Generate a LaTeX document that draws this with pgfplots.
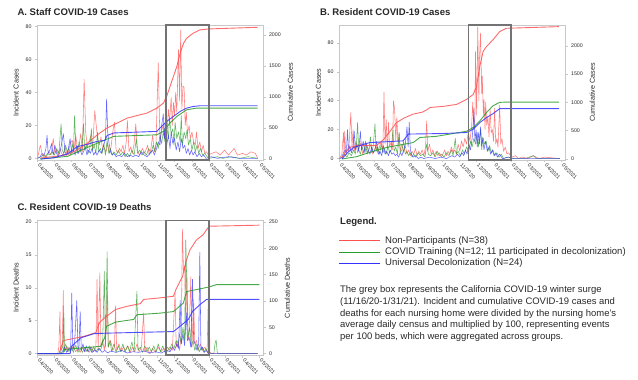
\documentclass[border=0pt]{standalone}
\usepackage{fontspec}
\setmainfont{Liberation Sans}
\usepackage{pgfplots}
\pgfplotsset{compat=1.18}
\definecolor{cred}{RGB}{255,80,80}
\definecolor{cgreen}{RGB}{40,155,40}
\definecolor{cblue}{RGB}{50,50,255}
\definecolor{axgrey}{RGB}{200,200,200}
\definecolor{boxgrey}{RGB}{115,115,115}
\definecolor{txt}{RGB}{40,40,40}
\tikzset{surge/.style={draw=boxgrey, line width=1.4bp}}
\pgfplotsset{
  base/.style={
    scale only axis, width=225.5bp, height=135bp, xmin=0, xmax=401.5,
    axis line style={draw=axgrey, line width=0.8bp},
    tick style={draw=axgrey, line width=0.6bp}, major tick length=2.5bp, tick align=outside,
    ticklabel style={font=\fontsize{5.3}{6}\selectfont, text=txt},
    /pgf/number format/assume math mode=true,
    /pgf/number format/1000 sep={},
    scaled ticks=false,
    label style={font=\fontsize{7.2}{8}\selectfont, text=txt},
  },
  lax/.style={base, xtick pos=left, ytick pos=left,
    xtick={0,30,61,91,122,153,183,214,244,275,306,334,365,395},
    xticklabels={04/2020,05/2020,06/2020,07/2020,08/2020,09/2020,10/2020,11/2020,12/2020,01/2021,02/2021,03/2021,04/2021,05/2021},
    xticklabel style={rotate=-45, anchor=west, xshift=-1bp, yshift=-0.5bp},
  },
  rax/.style={base, axis y line*=right, axis x line=none, clip=false},
  inc/.style={line width=0.55bp, opacity=0.75, line join=round},
  cum/.style={line width=0.9bp, opacity=0.85},
}
\begin{document}
\begin{tikzpicture}
\useasboundingbox (0bp,0bp) rectangle (638bp,380bp);
% ---------------- A ----------------
\begin{axis}[lax, at={(37.5bp,220bp)}, anchor=south west, ymin=-1, ymax=81, ytick={0,20,40,60,80}, ylabel={Incident Cases}]
\addplot[inc, cred] coordinates {(0,0) (5,8) (8,3) (10,1) (13,2) (16,1) (20,4) (24,2) (28,12) (31,3) (34,5) (37,2) (40,6) (43,3) (46,2) (49,7) (52,3) (55,4) (58,9) (62,11) (65,5) (68,14) (71,6) (74,8) (77,15) (80,4) (83,48) (86,15) (89,7) (92,10) (95,14) (98,6) (102,29) (104,22) (107,12) (110,8) (113,13) (116,5) (119,6) (122,4) (125,9) (128,3) (131,7) (134,16) (137,22) (140,5) (143,3) (146,6) (149,4) (152,8) (155,3) (158,10) (160,23) (163,4) (166,7) (169,3) (172,9) (175,21) (178,5) (181,2) (184,4) (187,6) (190,3) (193,5) (196,8) (199,2) (202,6) (205,14) (208,4) (211,9) (215,58) (218,10) (221,17) (224,20) (226,12) (229,25) (231,18) (233,30) (235,22) (238,37) (240,20) (242,34) (244,26) (246,40) (248,28) (251,66) (253,35) (255,78) (257,30) (259,44) (261,43) (263,20) (265,28) (267,15) (270,20) (272,12) (275,16) (278,10) (281,8) (283,16) (286,6) (289,10) (292,4) (295,8) (298,3) (301,4) (304,2) (310,3) (318,4) (325,2) (333,5) (340,2) (350,6) (356,2) (365,3) (372,2) (380,4) (388,3) (392,0)};
\addplot[inc, cgreen] coordinates {(0,0) (6,1) (10,2) (14,1) (18,3) (22,2) (26,4) (30,2) (34,6) (38,3) (42,21) (44,5) (47,3) (50,8) (53,4) (56,6) (59,2) (62,9) (64,4) (66,26) (68,8) (71,3) (74,10) (77,4) (79,6) (82,21) (84,5) (87,8) (90,3) (93,6) (96,18) (98,5) (101,8) (104,3) (107,16) (109,4) (112,6) (115,3) (118,9) (121,2) (124,11) (127,3) (130,6) (133,2) (136,4) (140,2) (144,5) (148,2) (152,4) (156,1) (160,3) (164,1) (168,5) (172,2) (176,12) (178,3) (182,5) (186,2) (190,4) (194,2) (198,6) (202,3) (206,8) (209,4) (212,10) (215,6) (218,14) (221,9) (224,16) (227,10) (230,20) (233,12) (235,24) (238,15) (241,18) (243,8) (245,22) (248,12) (251,16) (254,10) (256,26) (258,8) (261,16) (264,12) (266,17) (269,8) (272,12) (275,5) (278,10) (281,4) (284,8) (287,3) (290,6) (294,2) (298,3) (302,1) (306,0) (320,1) (330,0) (345,1) (360,0) (375,1) (392,0)};
\addplot[inc, cblue] coordinates {(0,0) (5,1) (8,3) (12,2) (15,6) (17,14) (19,3) (22,5) (25,9) (28,2) (31,8) (34,3) (37,1) (40,4) (43,9) (46,15) (49,4) (52,2) (55,6) (58,12) (61,3) (64,5) (67,2) (70,8) (73,3) (76,6) (79,2) (82,4) (85,7) (88,2) (91,5) (94,3) (97,6) (100,2) (103,4) (106,2) (110,5) (114,3) (118,8) (121,12) (123,36) (125,16) (127,10) (130,4) (133,2) (136,3) (140,1) (145,2) (150,1) (155,3) (160,1) (165,2) (170,1) (175,2) (180,1) (185,4) (190,2) (195,1) (200,3) (205,5) (208,2) (212,6) (215,10) (218,8) (221,20) (224,27) (226,12) (228,24) (230,8) (233,14) (236,6) (238,16) (241,9) (244,12) (247,5) (250,10) (253,4) (256,12) (259,6) (262,8) (265,3) (268,6) (271,2) (274,5) (277,2) (280,4) (284,1) (288,3) (292,1) (296,2) (300,0) (310,1) (320,0) (340,1) (360,0) (392,0)};
\end{axis}
\begin{axis}[rax, at={(37.5bp,220bp)}, anchor=south west, ymin=-16, ymax=2160, ytick={0,500,1000,1500,2000}, ylabel={Cumulative Cases}]
\addplot[cum, cred] coordinates {(5,15) (20,30) (40,50) (53.5,70) (71,150) (89,257) (106.5,390) (124,500) (142,580) (160,660) (177,700) (195,740) (212.5,820) (224,900) (230,1010) (236,1170) (242,1330) (248,1490) (254,1705) (260,1865) (265.5,1946) (277,2027) (289,2080) (304,2096) (392,2123)};
\addplot[cum, cgreen] coordinates {(5,0) (53.5,43) (80,150) (100,230) (106.5,257) (124,322) (136,365) (212.5,390) (224,445) (236,580) (248,686) (265.5,793) (283,820) (392,820)};
\addplot[cum, cblue] coordinates {(5,0) (30,20) (53.5,85) (71,200) (90,240) (106.5,285) (120,300) (124,380) (136,420) (212.5,445) (218,500) (230,605) (242,686) (254,767) (265.5,820) (277,847) (289,858) (392,858)};
\draw[surge] (axis cs:229,-16) rectangle (axis cs:305,2160);
\end{axis}
\node[anchor=west, font=\fontsize{9.6}{11}\selectfont\bfseries, text=txt] at (14bp,368bp) {A. Staff COVID-19 Cases};
% ---------------- B ----------------
\begin{axis}[lax, at={(339.6bp,220bp)}, anchor=south west, ymin=-1, ymax=92.5, ytick={0,20,40,60,80}, ylabel={Incident Cases}]
\addplot[inc, cred] coordinates {(0,0) (4,3) (7,18) (8,2) (9,19) (11,4) (14,6) (17,10) (20,32) (22,8) (24,20) (26,5) (29,12) (32,4) (35,8) (38,11) (41,3) (44,6) (47,11) (50,4) (53,7) (56,10) (59,3) (62,6) (65,9) (68,4) (71,8) (74,12) (77,5) (79,46) (81,10) (83,27) (85,6) (87,25) (89,8) (92,12) (94,6) (96,40) (98,34) (100,12) (102,29) (104,8) (106,18) (108,5) (111,10) (114,4) (117,9) (120,3) (123,6) (126,2) (129,5) (132,3) (135,7) (138,2) (141,5) (144,3) (147,6) (150,2) (153,8) (155,26) (157,5) (160,10) (163,3) (166,6) (169,2) (172,5) (175,2) (178,4) (181,1) (184,3) (187,6) (190,2) (193,5) (196,3) (199,8) (202,4) (205,6) (208,3) (211,10) (214,5) (217,12) (220,8) (223,14) (226,10) (229,18) (232,12) (235,22) (237,39) (239,20) (241,30) (242,74) (244,30) (246,91) (248,40) (249,69) (251,87) (253,45) (254,57) (256,30) (257,41) (259,20) (260,39) (262,23) (264,29) (266,15) (268,34) (270,18) (272,20) (274,12) (276,35) (278,10) (280,14) (282,8) (285,37) (287,10) (289,14) (292,5) (295,8) (298,3) (301,4) (304,2) (308,1) (313,2) (318,0) (325,1) (335,0) (345,2) (355,0) (365,1) (392,0)};
\addplot[inc, cgreen] coordinates {(0,0) (5,1) (9,3) (13,1) (17,4) (21,2) (25,6) (28,3) (30,10) (32,25) (34,6) (37,3) (40,8) (43,4) (46,12) (49,3) (52,6) (55,15) (57,4) (60,9) (63,24) (65,5) (68,8) (71,3) (74,10) (77,4) (80,7) (83,3) (86,9) (89,4) (92,6) (95,20) (97,5) (100,8) (103,3) (106,18) (108,4) (111,6) (114,12) (117,3) (120,5) (123,2) (126,4) (129,1) (132,3) (135,1) (140,4) (144,2) (148,3) (152,1) (155,10) (158,3) (162,2) (166,4) (170,1) (174,5) (178,2) (182,3) (186,1) (190,4) (195,2) (199,6) (202,2) (206,14) (208,3) (211,5) (215,2) (219,6) (222,3) (226,8) (230,5) (233,12) (236,8) (239,14) (242,10) (245,18) (247,8) (251,20) (253,6) (255,15) (258,10) (261,12) (264,5) (267,9) (270,4) (273,6) (276,2) (280,4) (284,1) (288,3) (292,0) (300,1) (310,0) (330,0) (345,2) (350,0) (392,0)};
\addplot[inc, cblue] coordinates {(0,0) (4,1) (7,4) (10,6) (12,3) (14,20) (16,5) (18,9) (21,4) (24,8) (26,19) (28,6) (31,10) (34,5) (37,19) (39,6) (42,12) (45,4) (48,10) (51,6) (54,3) (57,8) (60,4) (63,6) (66,12) (69,3) (72,5) (75,2) (78,9) (81,3) (84,5) (87,2) (90,6) (93,3) (96,4) (99,2) (102,3) (105,1) (108,4) (111,2) (114,6) (117,10) (120,22) (122,8) (124,25) (126,6) (128,3) (131,1) (135,2) (140,0) (145,1) (150,0) (160,1) (170,0) (180,1) (190,0) (200,2) (205,1) (210,3) (214,1) (218,4) (221,2) (224,6) (227,3) (230,10) (233,6) (236,14) (238,24) (239,35) (241,12) (243,20) (245,8) (247,18) (249,10) (251,22) (253,9) (255,14) (257,6) (260,12) (263,5) (266,8) (269,3) (272,6) (275,2) (278,4) (281,1) (285,3) (290,0) (300,1) (310,0) (330,0) (392,0)};
\end{axis}
\begin{axis}[rax, at={(339.6bp,220bp)}, anchor=south west, ymin=-18, ymax=2368, ytick={0,500,1000,1500,2000}, ylabel={Cumulative Cases}]
\addplot[cum, cred] coordinates {(4,20) (10,120) (20,210) (30,235) (66,240) (78.8,350) (90.6,500) (101,640) (114,720) (130,790) (148,830) (157,880) (161,910) (185,930) (208.5,965) (226,1053) (237.8,1140) (243.8,1287) (249.6,1637) (255.5,1900) (261.5,1988) (273,2105) (285,2251) (296.8,2310) (391,2339)};
\addplot[cum, cgreen] coordinates {(4,0) (30,40) (53.5,117) (84,205) (131,290) (143,380) (172,400) (208.5,460) (226,490) (237.8,556) (249.6,672) (261.5,819) (273,940) (285,1000) (296,1006) (391,1006)};
\addplot[cum, cblue] coordinates {(4,0) (15,120) (25,205) (53.5,290) (113,320) (118,380) (122,440) (184.8,450) (226,468) (237.8,526) (249.6,643) (261.5,731) (273,800) (285,889) (391,889)};
\draw[surge] (axis cs:229,-18) rectangle (axis cs:305,2368);
\end{axis}
\node[anchor=west, font=\fontsize{9.6}{11}\selectfont\bfseries, text=txt] at (316.7bp,368bp) {B. Resident COVID-19 Cases};
% ---------------- C ----------------
\begin{axis}[lax, at={(37.5bp,25bp)}, anchor=south west, height=134.3bp, ymin=-0.2, ymax=20.2, ytick={0,5,10,15,20}, ylabel={Incident Deaths}]
\addplot[inc, cred] coordinates {(0,0) (36,0) (38,1) (40,6.4) (41,0.5) (44,1) (46,9.6) (47,0.5) (50,1.5) (53,0.3) (56,1) (60,0.5) (64,1.2) (68,0.3) (72,0.8) (76,0.2) (80,1) (84,0.3) (88,0.6) (92,0.2) (96,1) (100,0.3) (104,1) (106,11.3) (108,0.5) (111,12.3) (113,1) (116,2) (119,0.5) (122,3) (124,9.5) (126,1) (130,2) (134,0.5) (137,1) (139,7.3) (141,0.5) (145,1.5) (149,0.3) (153,1) (157,0.5) (161,1.2) (165,0.2) (169,1) (173,0.3) (177,1.5) (181,0.3) (185,1) (189,6.2) (191,0.3) (195,1) (200,0) (205,0.8) (210,0.2) (215,1) (220,0.3) (225,0.8) (230,0.2) (235,1) (240,0.5) (245,9.2) (247,1) (250,2) (253,0.5) (256,3) (258,18.9) (260,12.5) (262,13.3) (264,4) (266,12.3) (268,2) (270,3) (273,11.7) (275,1) (278,8.2) (280,1.5) (283,2) (286,0.5) (290,1.5) (294,0.5) (298,1) (302,0.3) (305,12.3) (307,0.2) (312,0) (392,0)};
\addplot[inc, cgreen] coordinates {(0,0) (40,0) (42,0.5) (45,1) (47,6.2) (48,0.3) (52,1.2) (56,0.3) (60,1) (64,0.2) (68,1.3) (72,0.2) (76,0.8) (80,0.2) (84,1) (88,0.3) (92,1.2) (96,0.2) (100,1) (104,0.3) (108,0.8) (112,0.5) (116,1.5) (119,12.5) (121,1) (124,15.5) (126,1) (129,2) (132,0.3) (136,1.5) (140,0.2) (144,1.2) (148,0.3) (152,1.5) (156,0.2) (160,1.2) (164,0.3) (168,1.8) (172,0.3) (177,9.5) (179,0.5) (183,1) (187,0.2) (191,1.2) (195,0.3) (199,1) (203,0.3) (207,1.2) (211,0.2) (215,1.5) (219,0.3) (223,1.2) (227,0.2) (231,1) (235,0.5) (239,1.5) (243,0.8) (247,2) (250,1) (253,3) (256,1.5) (259,4) (262,2) (264,17.3) (266,10) (268,2.5) (271,4) (274,1) (277,2) (280,0.5) (284,1.5) (288,0.3) (292,1) (296,0.2) (300,0.8) (304,0) (314,0) (316,1.5) (318,2.1) (320,0.3) (322,0) (392,0)};
\addplot[inc, cblue] coordinates {(0,0) (40,0) (44,0.3) (48,1) (52,0.2) (56,0.8) (59,0.5) (61,9.2) (63,0.5) (66,1.5) (70,8.1) (72,0.5) (74,1.2) (76,6.4) (78,0.5) (81,1.5) (84,0.3) (87,1.2) (90,0.3) (94,1) (98,0.2) (102,0.6) (106,0.2) (110,0.8) (115,0.2) (120,0.5) (125,0.1) (130,0.4) (140,0.2) (150,0.5) (160,0.1) (170,0.3) (180,0.2) (190,0.4) (200,0.1) (210,0.3) (220,0.1) (230,0.5) (236,0.3) (240,1) (244,0.5) (248,1.5) (251,0.8) (254,8.1) (256,1.5) (259,3) (262,1.2) (265,6.2) (267,2) (270,2.5) (273,1) (276,11.3) (278,2) (281,1.5) (284,0.5) (287,1.5) (289,15.4) (291,0.5) (294,1) (297,0.2) (300,0.5) (305,0) (392,0)};
\end{axis}
\begin{axis}[rax, at={(37.5bp,25bp)}, anchor=south west, height=134.3bp, ymin=-2.5, ymax=252.5, ytick={0,50,100,150,200,250}, ylabel={Cumulative Deaths}]
\addplot[cum, cred] coordinates {(0,0) (38,0) (40.5,8) (46.4,25) (83,33) (104,40) (106.5,49) (111,60) (123,71) (139,84) (159.5,90) (183,95) (189,103) (218.4,106) (242,109) (246.6,122) (258.4,147) (264.3,175) (271.4,197) (283,216) (295,226) (305.5,242) (395,244)};
\addplot[cum, cgreen] coordinates {(0,0) (45,0) (47,8) (112.3,14) (119.5,30) (123,52) (139,60) (171.3,65) (177,74) (218.4,77) (242,80) (259.6,96) (265.5,118) (289,123) (306.7,127) (318,131) (395,131)};
\addplot[cum, cblue] coordinates {(0,0) (58,0) (60.5,14) (77,30) (100.6,38) (124,39) (242,42) (253.7,52) (268.5,65) (276,80) (289,93) (301,103) (395,103)};
\draw[surge] (axis cs:229,-2.5) rectangle (axis cs:305,252.5);
\end{axis}
\node[anchor=west, font=\fontsize{9.6}{11}\selectfont\bfseries, text=txt] at (14bp,173.3bp) {C. Resident COVID-19 Deaths};
% ---------------- legend & note ----------------
\node[anchor=west, font=\fontsize{9.6}{11}\selectfont\bfseries, text=txt, inner sep=0] at (340bp,158.3bp) {Legend.};
\draw[cred, line width=1bp] (339bp,139.3bp) -- (380bp,139.3bp);
\draw[cgreen, line width=1bp] (339bp,127.7bp) -- (380bp,127.7bp);
\draw[cblue, line width=1bp] (339bp,116.7bp) -- (380bp,116.7bp);
\node[anchor=west, font=\fontsize{9.6}{11}\selectfont, text=txt, inner sep=0] at (385bp,139.3bp) {Non-Participants (N=38)};
\node[anchor=west, font=\fontsize{9.6}{11}\selectfont, text=txt, inner sep=0] at (385bp,127.7bp) {COVID Training (N=12; 11 participated in decolonization)};
\node[anchor=west, font=\fontsize{9.6}{11}\selectfont, text=txt, inner sep=0] at (385bp,116.7bp) {Universal Decolonization (N=24)};
\node[anchor=north west, align=left, font=\fontsize{9.5}{11.8}\selectfont, text=txt, inner sep=0] at (340bp,94.5bp) {The grey box represents the California COVID-19 winter surge\\(11/16/20-1/31/21). Incident and cumulative COVID-19 cases and\\deaths for each nursing home were divided by the nursing home’s\\average daily census and multiplied by 100, representing events\\per 100 beds, which were aggregated across groups.};
\end{tikzpicture}
\end{document}
